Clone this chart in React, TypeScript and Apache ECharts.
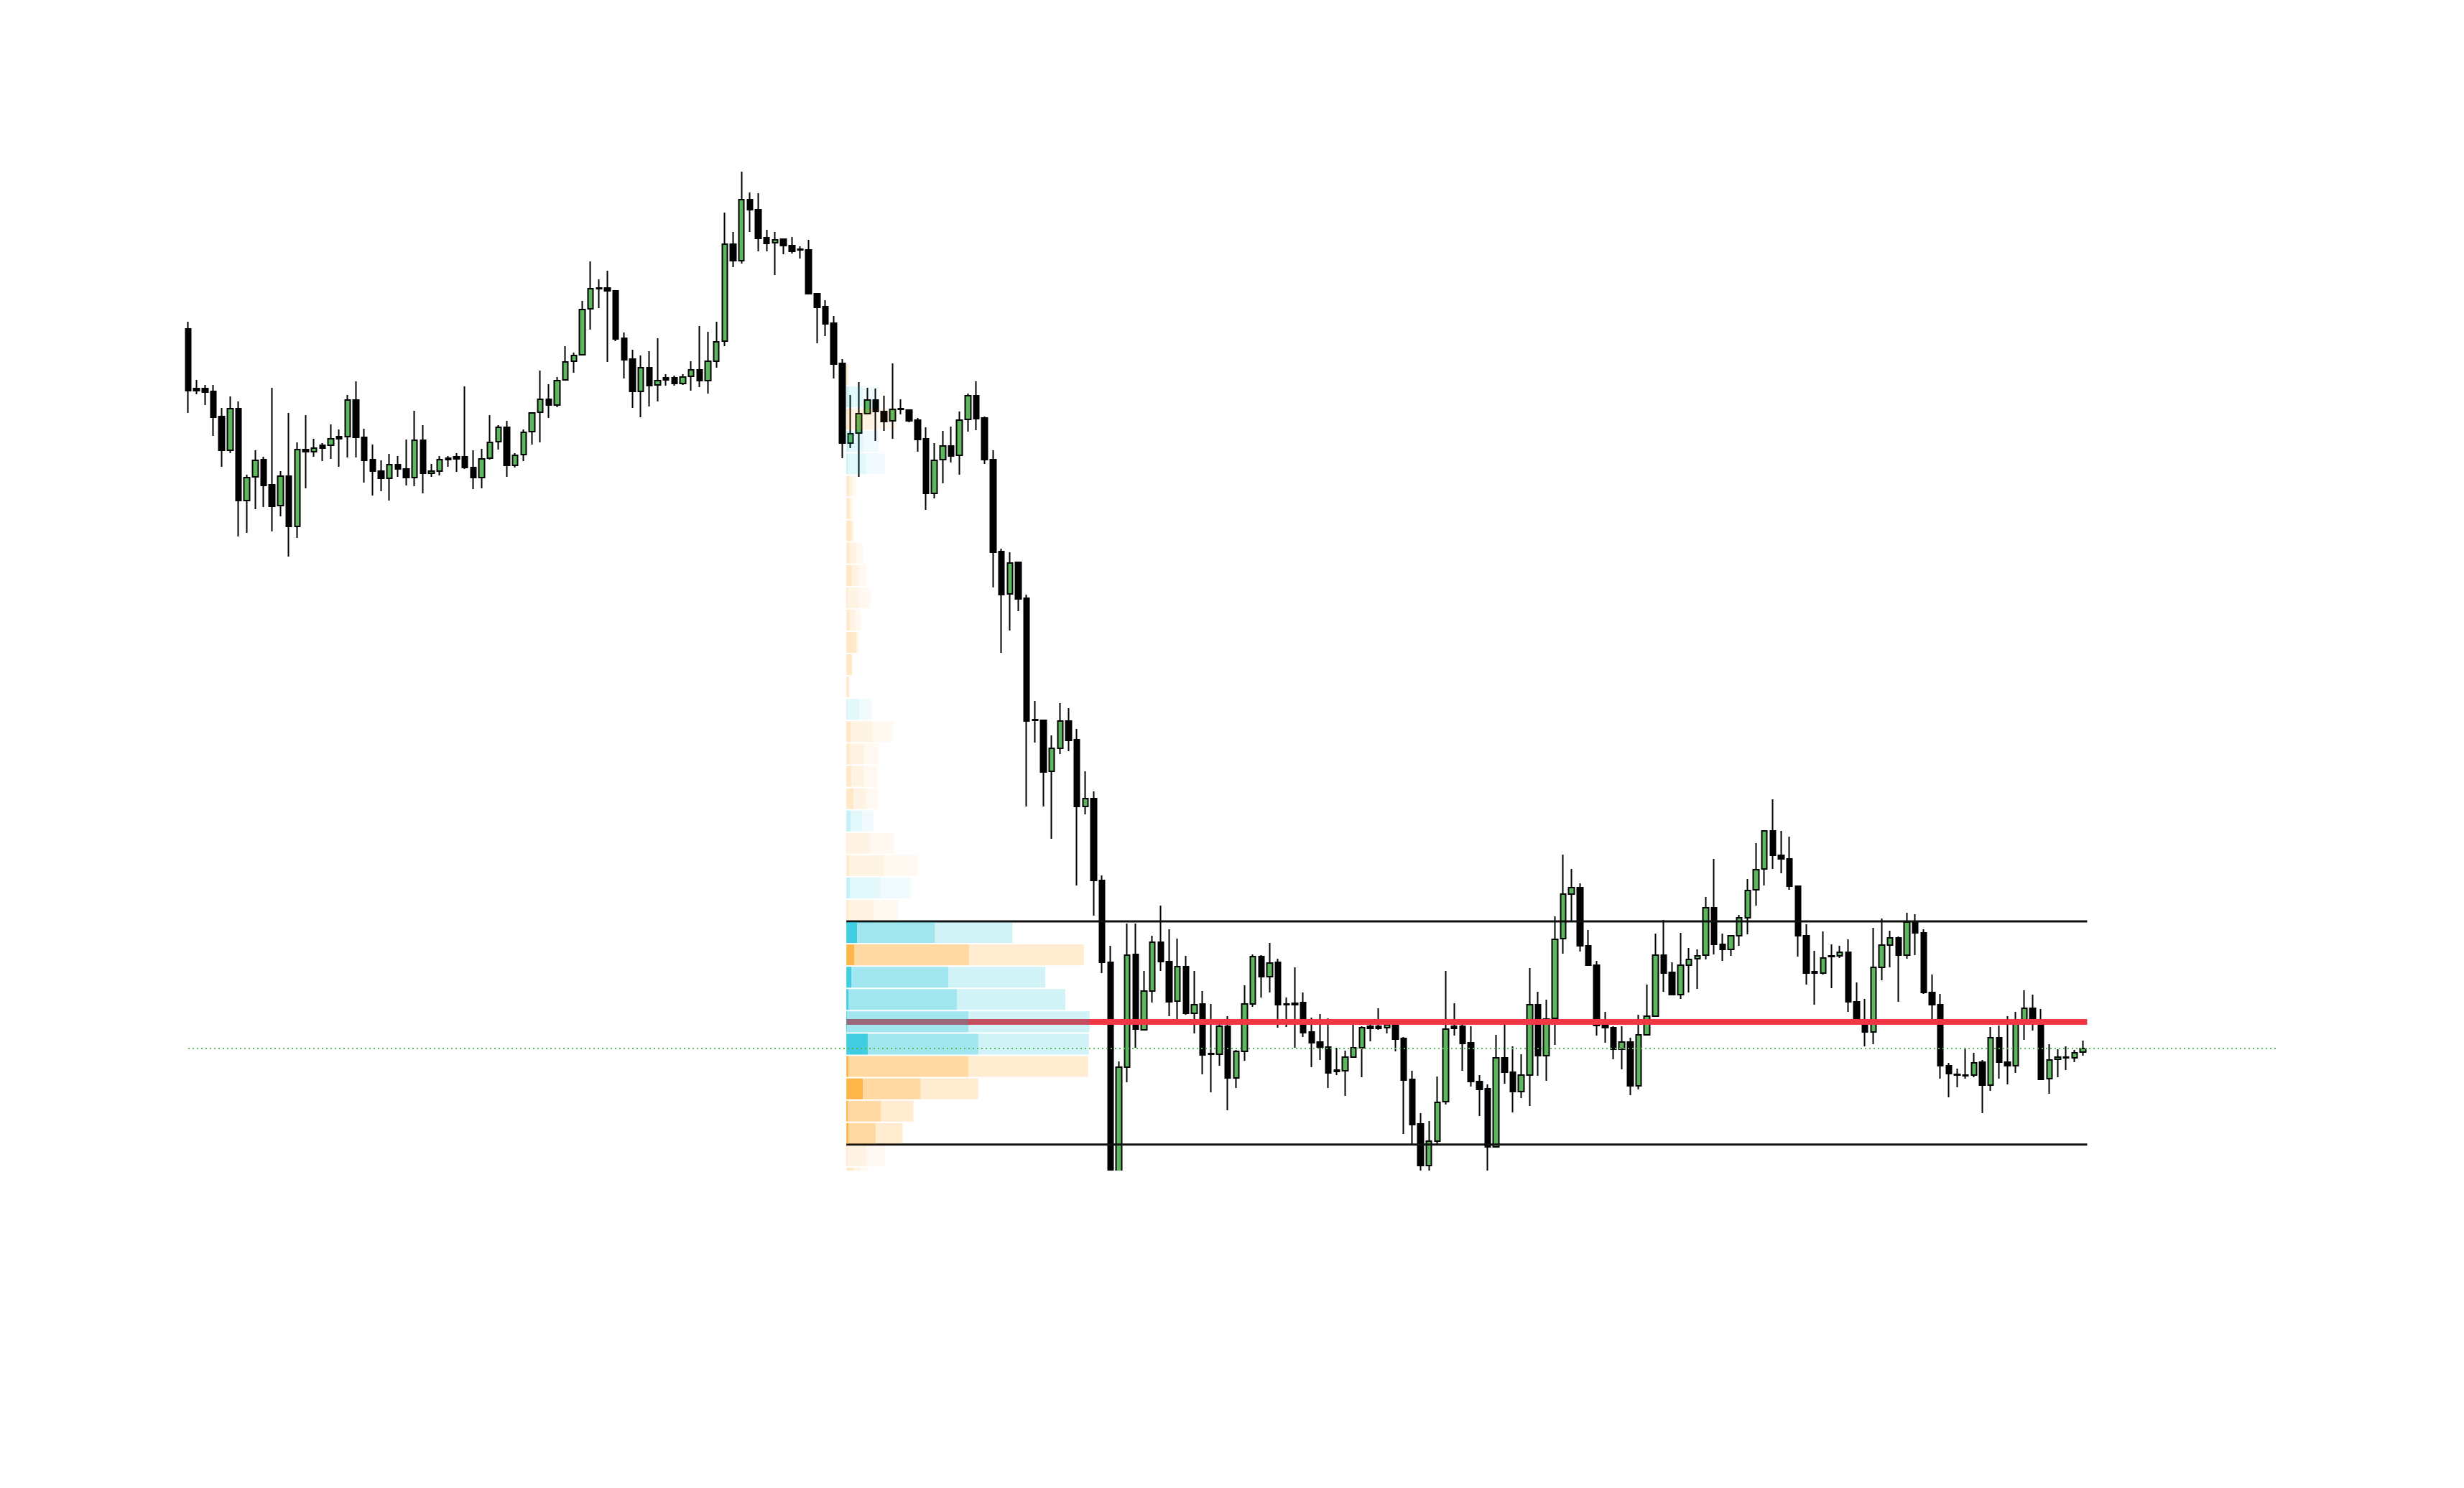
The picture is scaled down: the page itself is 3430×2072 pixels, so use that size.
import { useEffect, useRef } from "react";
import * as echarts from "echarts";

// ---- data ----
const categories: string[] = Array.from({ length: 250 }, (_, i) => `${i + 1}`);

// [open, close, low, high]
const ohlc: [number, number, number, number][] = [
  [217.2, 208.6, 205.5, 218.2], [208.9, 208.6, 208.1, 210.1], [208.9, 208.4, 206.6, 209.4], [208.5, 204.9, 202.3, 209.4],
  [205.0, 200.3, 198.0, 206.2], [200.3, 206.1, 199.9, 207.8], [206.1, 193.3, 188.3, 207.1], [193.3, 196.5, 188.8, 196.9],
  [196.6, 198.9, 192.1, 200.3], [199.0, 195.4, 192.4, 199.4], [195.5, 192.5, 189.0, 209.0], [192.6, 196.7, 191.1, 197.4],
  [196.7, 189.7, 185.5, 205.5], [189.7, 200.4, 188.1, 201.4], [200.4, 200.1, 195.0, 205.2], [200.1, 200.6, 199.4, 201.9],
  [201.0, 200.6, 198.8, 201.3], [201.0, 201.9, 199.1, 203.9], [202.2, 201.9, 198.0, 203.2], [202.2, 207.3, 199.3, 208.0],
  [207.3, 202.1, 199.3, 209.9], [202.1, 198.9, 195.8, 203.3], [199.0, 197.4, 194.0, 201.1], [197.4, 196.4, 194.6, 198.9],
  [196.4, 198.3, 193.3, 199.8], [198.3, 197.7, 196.6, 199.5], [197.7, 196.5, 195.4, 201.8], [196.5, 201.7, 195.3, 205.8],
  [201.7, 197.1, 194.3, 203.8], [197.1, 197.4, 196.6, 198.4], [197.4, 199.0, 196.8, 199.5], [199.2, 199.0, 198.0, 199.5],
  [199.4, 199.1, 197.3, 199.9], [199.4, 197.9, 197.7, 209.2], [197.9, 196.5, 194.9, 200.3], [196.5, 199.1, 195.0, 200.5],
  [199.2, 201.4, 199.0, 205.2], [201.5, 203.5, 200.4, 203.8], [203.5, 198.2, 196.6, 204.4], [198.2, 199.6, 197.9, 199.9],
  [199.7, 202.8, 198.8, 203.2], [202.9, 205.5, 201.1, 205.6], [205.6, 207.4, 201.4, 211.4], [207.4, 206.6, 204.8, 209.5],
  [206.6, 210.0, 206.3, 210.5], [210.1, 212.6, 210.0, 214.8], [212.7, 213.5, 211.1, 213.9], [213.6, 219.9, 213.5, 221.1],
  [220.0, 222.8, 217.1, 226.6], [222.9, 222.8, 220.1, 224.1], [222.9, 222.5, 212.6, 225.3], [222.5, 215.8, 215.5, 222.6],
  [215.9, 212.9, 210.3, 216.7], [213.0, 208.5, 206.2, 214.3], [208.5, 211.8, 204.9, 213.5], [211.8, 209.3, 206.4, 214.1],
  [209.4, 210.0, 207.1, 215.9], [210.4, 210.1, 209.3, 210.9], [210.4, 209.6, 209.3, 210.7], [209.6, 210.5, 209.4, 210.9],
  [210.6, 211.5, 208.6, 212.7], [211.5, 210.0, 209.1, 217.6], [210.0, 212.7, 208.2, 216.8], [212.7, 215.4, 211.8, 218.2],
  [215.5, 229.0, 214.8, 233.4], [229.0, 226.7, 225.8, 230.7], [226.7, 235.2, 226.3, 239.1], [235.2, 233.8, 230.7, 236.2],
  [233.8, 229.8, 228.0, 236.1], [229.9, 229.1, 228.0, 231.0], [229.2, 229.6, 224.7, 230.7], [229.7, 228.8, 227.6, 229.8],
  [228.8, 228.0, 227.7, 230.0], [228.3, 228.2, 227.0, 228.7], [228.2, 222.1, 222.0, 229.6], [222.1, 220.2, 215.2, 222.2],
  [220.3, 217.9, 216.2, 221.2], [218.0, 212.3, 210.3, 219.0], [212.4, 201.3, 199.2, 213.0], [201.3, 202.6, 200.6, 208.0],
  [202.7, 205.4, 196.6, 209.8], [205.4, 207.3, 205.3, 209.0], [207.3, 205.7, 201.6, 208.9], [205.7, 204.3, 203.0, 207.9],
  [204.4, 206.0, 201.9, 212.4], [206.1, 206.0, 205.3, 207.4], [205.9, 204.4, 204.2, 206.0], [204.5, 201.8, 200.1, 204.8],
  [201.9, 194.3, 192.0, 203.5], [194.3, 198.9, 193.6, 201.3], [199.0, 200.9, 195.7, 203.0], [200.9, 199.5, 198.6, 203.6],
  [199.6, 204.5, 196.9, 205.7], [204.6, 207.9, 202.9, 208.2], [207.9, 204.7, 203.1, 209.9], [204.8, 199.0, 198.4, 205.0],
  [199.0, 186.1, 181.2, 200.3], [186.2, 180.2, 172.1, 186.6], [180.3, 184.6, 175.2, 186.1], [184.7, 179.6, 177.9, 184.8],
  [179.7, 162.6, 150.7, 180.2], [162.8, 162.7, 159.6, 165.4], [162.7, 155.5, 150.7, 162.8], [155.6, 158.8, 146.2, 160.6],
  [158.8, 162.6, 158.0, 165.1], [162.6, 159.9, 158.4, 164.4], [160.0, 150.7, 139.7, 161.5], [150.7, 151.8, 149.6, 155.6],
  [151.8, 140.4, 135.5, 152.8], [140.4, 129.0, 127.5, 141.1], [129.0, 98.6, 97.4, 131.3], [98.7, 114.4, 97.8, 115.2],
  [114.4, 130.0, 112.3, 134.4], [130.1, 119.7, 117.1, 134.4], [119.6, 125.0, 119.5, 127.8], [125.0, 131.8, 123.4, 132.7],
  [131.8, 129.1, 127.8, 136.9], [129.1, 123.5, 121.5, 133.6], [123.6, 128.4, 121.1, 132.3], [128.4, 121.9, 121.7, 129.9],
  [121.9, 123.1, 119.1, 127.8], [123.2, 116.1, 113.4, 125.0], [116.3, 116.2, 110.9, 123.2], [116.2, 120.1, 114.6, 120.7],
  [120.1, 112.9, 108.4, 121.5], [112.9, 116.6, 111.5, 116.8], [116.6, 123.2, 115.3, 125.8], [123.2, 129.8, 122.8, 130.1],
  [129.8, 127.0, 124.1, 130.0], [127.0, 128.9, 124.8, 131.7], [129.0, 123.1, 119.9, 129.5], [123.2, 123.1, 120.0, 124.1],
  [123.3, 123.1, 117.1, 128.3], [123.4, 119.2, 118.6, 124.8], [119.3, 117.8, 114.4, 121.3], [117.9, 117.2, 115.4, 121.8],
  [117.2, 113.6, 111.5, 121.2], [114.0, 113.8, 113.3, 117.1], [113.9, 115.8, 110.4, 116.7], [115.8, 117.1, 115.7, 121.1],
  [117.1, 119.9, 113.0, 120.1], [120.1, 119.8, 118.0, 121.1], [120.1, 119.8, 119.6, 122.6], [119.9, 120.3, 119.1, 120.5],
  [120.3, 118.3, 116.6, 120.4], [118.4, 112.6, 105.1, 118.6], [112.7, 106.4, 103.7, 113.9], [106.5, 100.7, 99.5, 108.0],
  [100.7, 104.1, 99.8, 106.9], [104.1, 109.5, 103.7, 113.1], [109.6, 119.7, 109.2, 127.8], [120.1, 119.8, 118.8, 123.3],
  [120.1, 117.7, 113.9, 121.1], [117.8, 112.4, 111.7, 120.1], [112.4, 111.3, 107.6, 113.3], [111.4, 103.3, 100.0, 112.0],
  [103.3, 115.7, 103.2, 118.9], [115.7, 113.7, 112.1, 120.4], [113.7, 111.0, 108.1, 117.3], [111.0, 113.3, 110.1, 116.2],
  [113.3, 123.1, 109.0, 128.2], [123.1, 116.0, 113.2, 124.9], [116.0, 121.1, 112.5, 123.8], [121.2, 132.2, 117.5, 135.4],
  [132.3, 138.5, 130.2, 144.0], [138.5, 139.4, 134.8, 142.0], [139.4, 131.3, 130.5, 140.0], [131.3, 128.6, 128.5, 133.5],
  [128.6, 120.2, 118.8, 129.2], [120.2, 119.9, 117.8, 122.1], [119.9, 116.9, 115.5, 120.1], [116.9, 117.9, 114.1, 120.1],
  [117.9, 111.8, 110.5, 118.5], [111.8, 118.9, 111.3, 121.7], [118.9, 121.5, 118.8, 125.9], [121.5, 130.0, 121.4, 133.0],
  [130.0, 127.5, 124.9, 134.9], [127.6, 124.5, 124.4, 129.0], [124.5, 128.6, 123.9, 133.1], [128.6, 129.4, 124.8, 131.0],
  [129.5, 129.9, 125.3, 130.8], [130.0, 136.6, 129.4, 138.1], [136.6, 131.5, 130.1, 143.4], [131.5, 130.8, 129.2, 133.0],
  [130.8, 132.7, 129.9, 132.8], [132.7, 135.2, 131.3, 135.6], [135.2, 139.0, 132.9, 140.6], [139.1, 141.9, 136.9, 145.6],
  [142.0, 147.3, 139.7, 147.4], [147.3, 143.9, 142.0, 151.7], [143.9, 143.4, 141.4, 147.3], [143.4, 139.6, 139.1, 146.5],
  [139.6, 132.7, 129.8, 139.7], [132.7, 127.5, 125.9, 134.3], [127.7, 127.5, 123.1, 130.6], [127.5, 129.6, 127.3, 133.3],
  [129.9, 129.8, 125.4, 131.5], [129.9, 130.4, 129.6, 131.3], [130.4, 123.5, 122.1, 132.2], [123.5, 120.6, 120.4, 126.2],
  [120.6, 119.3, 117.3, 123.9], [119.3, 128.3, 117.6, 133.8], [128.3, 131.4, 126.5, 135.1], [131.4, 132.4, 128.3, 133.4],
  [132.4, 130.0, 123.5, 132.6], [130.0, 134.6, 129.5, 135.9], [134.6, 133.1, 130.0, 135.7], [133.1, 124.8, 124.6, 133.6],
  [124.8, 123.1, 120.9, 127.3], [123.1, 114.6, 112.8, 124.6], [114.6, 113.5, 110.2, 115.0], [113.4, 113.3, 111.6, 114.2],
  [113.3, 113.2, 112.8, 117.1], [113.3, 115.0, 113.0, 116.4], [115.1, 111.9, 108.0, 115.4], [111.9, 118.5, 111.1, 120.0],
  [118.5, 115.1, 112.8, 120.2], [115.1, 114.6, 112.0, 121.5], [114.6, 120.9, 113.6, 122.1], [121.0, 122.6, 118.2, 125.1],
  [122.6, 120.7, 119.5, 124.5], [120.6, 112.7, 112.6, 122.5], [112.8, 115.4, 110.7, 117.6], [115.5, 115.8, 113.0, 116.9],
  [115.8, 115.7, 114.0, 117.3], [115.7, 116.4, 115.1, 116.8], [116.5, 117.0, 116.0, 118.1],
];

// volume profile (rows from the top price bin down)
const profileStart = 79;
const profileHigh = 212.4;
const profileLow = 97.4;
const profileUp = [1, 23, 33, 24, 28, 5, 2, 2, 9, 10, 16, 8, 2, 0, 0, 18, 30, 20, 18, 17, 22, 33, 48, 48, 35, 124, 161, 143, 155, 171, 185, 168, 81, 46, 38, 26, 10];
const profileDown = [3, 20, 38, 21, 26, 9, 7, 9, 14, 18, 18, 13, 16, 8, 4, 17, 36, 25, 25, 27, 16, 34, 52, 43, 38, 109, 172, 136, 152, 170, 155, 171, 104, 48, 41, 28, 20];
const pocRow = 29;
const valueAreaRows = [25, 34];

const yMin = 100;
const yMax = 242.3;

export default function App() {
  const ref = useRef<HTMLDivElement>(null);

  useEffect(() => {
    if (!ref.current) return;
    const chart = echarts.init(ref.current, null, { renderer: "svg" });
    const last = ohlc.length - 1;
    const lastClose = ohlc[last][1];
    const nRows = profileUp.length;
    const binSize = (profileHigh - profileLow) / nRows;
    const rows = profileUp.map((u, k) => {
      const hi = profileHigh - k * binSize;
      const inVA = k >= valueAreaRows[0] && k <= valueAreaRows[1] ? 1 : 0;
      return [profileStart, hi, hi - binSize, u, profileDown[k], inVA];
    });
    const maxTotal = Math.max(...profileUp.map((u, k) => u + profileDown[k]));
    const widthFrac = 0.196;
    const vah = profileHigh - valueAreaRows[0] * binSize;
    const val = profileHigh - (valueAreaRows[1] + 1) * binSize;
    const poc = profileHigh - (pocRow + 0.5) * binSize;

    const option: any = {
      animation: false,
      backgroundColor: "#ffffff",
      grid: { left: 262, right: 262, top: 207, bottom: 442 },
      xAxis: { type: "category", data: categories, boundaryGap: false, show: false },
      yAxis: { type: "value", min: yMin, max: yMax, show: false, splitLine: { show: false } },
      series: [
        {
          type: "candlestick",
          data: ohlc,
          barWidth: "68%",
          clip: true,
          z: 2,
          itemStyle: {
            color: "#5cb85c",
            color0: "#000000",
            borderColor: "#000000",
            borderColor0: "#000000",
            borderColorDoji: "#000000",
            borderWidth: 2,
          },
        },
        {
          type: "custom",
          z: 3,
          data: [
            [profileStart, vah, 0],
            [profileStart, val, 0],
            [profileStart, poc, 1],
          ],
          renderItem: (params: any, api: any) => {
            const price = api.value(1);
            const kind = api.value(2);
            const pitch = api.size([1, 0])[0];
            const p0 = api.coord([profileStart, price]);
            const p1 = api.coord([last, price]);
            return {
              type: "line",
              shape: { x1: p0[0] - pitch / 2, y1: p0[1], x2: p1[0] + pitch / 2, y2: p0[1] },
              style: { stroke: kind ? "#f23645" : "#111111", lineWidth: kind ? 8 : 3 },
            };
          },
        },
        {
          type: "custom",
          z: 4,
          data: rows,
          renderItem: (params: any, api: any) => {
            const hi = api.value(1);
            const lo = api.value(2);
            const up = api.value(3);
            const down = api.value(4);
            const inVA = api.value(5);
            const pitch = api.size([1, 0])[0];
            const pTop = api.coord([profileStart, hi]);
            const pBot = api.coord([profileStart, lo]);
            const pEnd = api.coord([last, hi]);
            const x0 = pTop[0] - pitch / 2;
            const span = pEnd[0] + pitch / 2 - x0;
            const scale = (span * widthFrac) / maxTotal;
            const cs = params.coordSys;
            const top = Math.max(pTop[1] + 1, cs.y);
            const bot = Math.min(pBot[1] - 1, cs.y + cs.height);
            if (bot <= top) return null;
            const total = up + down;
            const dom = Math.max(up, down);
            const delta = Math.abs(up - down);
            const isUp = up >= down;
            const base = isUp ? "0,188,212" : "255,152,0";
            const alphas = isUp ? [0.75, 0.37, 0.18] : [0.72, 0.37, 0.18];
            const f = inVA ? 1 : 0.3;
            const segs = [
              [0, delta],
              [delta, dom],
              [dom, total],
            ];
            const children: any[] = [];
            segs.forEach(([a, b], i) => {
              if (b - a <= 0) return;
              children.push({
                type: "rect",
                shape: { x: x0 + a * scale, y: top, width: (b - a) * scale, height: bot - top },
                style: { fill: `rgba(${base},${alphas[i] * f})` },
              });
            });
            return { type: "group", children };
          },
        },
        {
          type: "custom",
          z: 5,
          data: [[last, lastClose]],
          renderItem: (params: any, api: any) => {
            const cs = params.coordSys;
            const y = Math.round(api.coord([last, api.value(1)])[1]);
            return {
              type: "line",
              shape: { x1: cs.x, y1: y, x2: cs.x + cs.width, y2: y },
              style: { stroke: "#5cb85c", lineWidth: 2, lineDash: [2, 4], lineCap: "butt" },
            };
          },
        },
      ],
    };
    chart.setOption(option);

    // mask the part of the candles that falls below the plot area (clip at grid bottom)
    const yBottom = chart.convertToPixel({ yAxisIndex: 0 }, yMin) as number;
    const w = chart.getWidth();
    const h = chart.getHeight();
    chart.setOption({
      graphic: [
        {
          type: "rect",
          z: 100,
          silent: true,
          shape: { x: 0, y: yBottom, width: w, height: h - yBottom },
          style: { fill: "#ffffff" },
        },
      ],
    });
    return () => chart.dispose();
  }, []);

  return (
    <div
      ref={ref}
      style={{ position: "fixed", left: 0, top: 0, width: 3430, height: 2072, background: "#ffffff" }}
    />
  );
}
